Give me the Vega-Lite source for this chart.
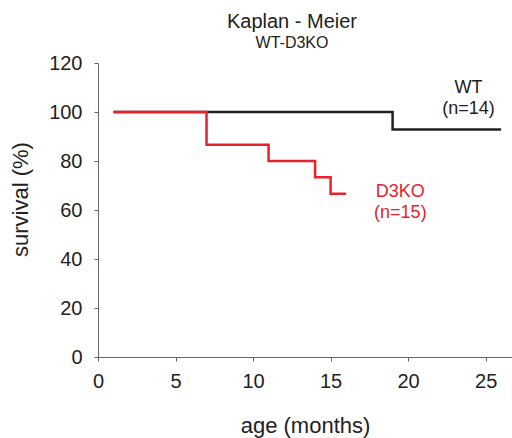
{
  "$schema": "https://vega.github.io/schema/vega-lite/v6.json",
  "autosize": "none",
  "padding": {"left": 98, "top": 63, "right": 0, "bottom": 81},
  "width": 414,
  "height": 294,
  "background": "white",
  "config": {
    "font": "Liberation Sans",
    "view": {"stroke": null},
    "axis": {
      "grid": false,
      "domainColor": "#666",
      "tickColor": "#666",
      "tickSize": 4,
      "labelFontSize": 20,
      "labelColor": "#222",
      "labelFlush": false,
      "titleFontSize": 22,
      "titleFontWeight": "normal",
      "titleColor": "#222"
    }
  },
  "title": {
    "text": "Kaplan - Meier",
    "subtitle": "WT-D3KO",
    "fontSize": 20,
    "fontWeight": "normal",
    "subtitleFontSize": 16,
    "subtitlePadding": 3,
    "color": "#222",
    "subtitleColor": "#222",
    "anchor": "middle",
    "dx": -13,
    "offset": 2
  },
  "datasets": {
    "curves": [
      {"group": "WT", "age": 1, "survival": 100},
      {"group": "WT", "age": 19, "survival": 92.86},
      {"group": "WT", "age": 26, "survival": 92.86},
      {"group": "D3KO", "age": 1, "survival": 100},
      {"group": "D3KO", "age": 7, "survival": 86.67},
      {"group": "D3KO", "age": 11, "survival": 80},
      {"group": "D3KO", "age": 14, "survival": 73.33},
      {"group": "D3KO", "age": 15, "survival": 66.67},
      {"group": "D3KO", "age": 16, "survival": 66.67}
    ],
    "labels": [
      {"group": "WT", "age": 23.9, "survival": 109.7, "label": "WT"},
      {"group": "WT", "age": 23.9, "survival": 101.2, "label": "(n=14)"},
      {"group": "D3KO", "age": 19.5, "survival": 67.2, "label": "D3KO"},
      {"group": "D3KO", "age": 19.5, "survival": 58.7, "label": "(n=15)"}
    ]
  },
  "encoding": {
    "x": {
      "field": "age",
      "type": "quantitative",
      "title": "age (months)",
      "scale": {"domain": [0, 26.7], "nice": false},
      "axis": {"values": [0, 5, 10, 15, 20, 25], "labelPadding": 10, "titlePadding": 24}
    },
    "y": {
      "field": "survival",
      "type": "quantitative",
      "title": "survival (%)",
      "scale": {"domain": [0, 120], "nice": false},
      "axis": {"values": [0, 20, 40, 60, 80, 100, 120], "labelPadding": 12, "titlePadding": 16, "titleY": 136}
    },
    "color": {
      "field": "group",
      "type": "nominal",
      "scale": {"domain": ["WT", "D3KO"], "range": ["#222222", "#e8212b"]},
      "legend": null
    }
  },
  "layer": [
    {
      "data": {"name": "curves"},
      "mark": {"type": "line", "interpolate": "step-after", "strokeWidth": 2.5},
      "encoding": {"detail": {"field": "group"}}
    },
    {
      "data": {"name": "labels"},
      "mark": {"type": "text", "fontSize": 18, "align": "center", "baseline": "middle"},
      "encoding": {"text": {"field": "label"}}
    }
  ]
}
